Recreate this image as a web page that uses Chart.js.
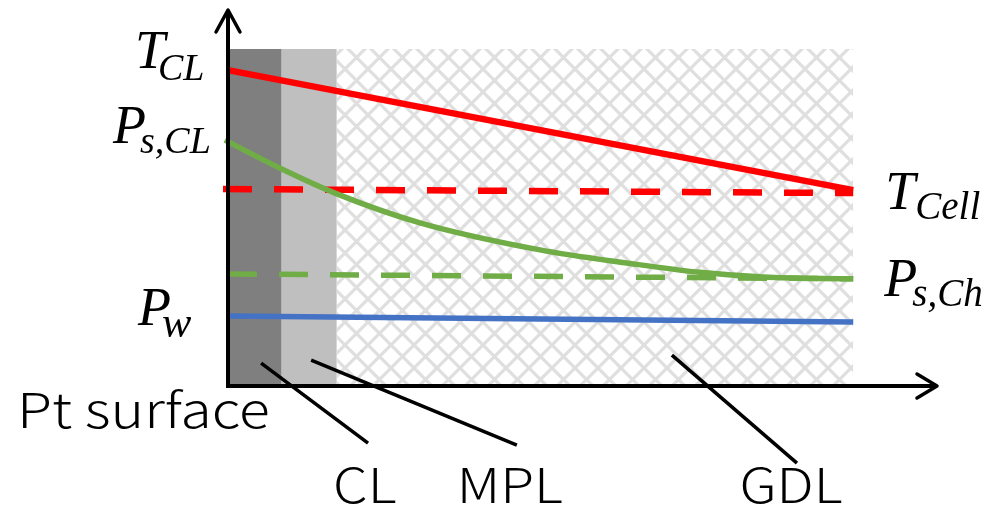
<!DOCTYPE html>
<html>
<head>
<meta charset="utf-8">
<script src="https://cdn.jsdelivr.net/npm/chart.js@4.4.1/dist/chart.umd.min.js"></script>
<style>
  html, body { margin: 0; padding: 0; background: #fff; overflow: hidden; }
  canvas { display: block; }
</style>
</head>
<body>
<canvas id="c" width="990" height="509"></canvas>
<script>
// Through-plane distance from the Pt surface (GDL outlet = 100), arbitrary level units
const layerNames = ['CL', 'MPL', 'GDL'];
const layerEdges = [0, 8.6, 17.4, 100];
const layerTop = 89.6;
const axisMaxX = 113.4;
const axisMaxY = 100;

// Temperature profile and cell temperature
const tempX = [0, 100];
const tempY = [84.0, 52.1];
const tempCellX = [-0.8, 100];
const tempCellY = [52.4, 51.3];

// Saturation pressure profile and channel saturation pressure
const psatX = [-0.5, 8.6, 17.4, 30.7, 49.9, 64.3, 75.0, 85.6, 100];
const psatY = [65.4, 57.7, 51.1, 43.4, 36.2, 32.6, 30.3, 29.0, 28.5];
const psatChX = [0, 100];
const psatChY = [29.8, 28.5];

// Water vapour partial pressure
const pwX = [0, 100];
const pwY = [18.6, 17.0];

// Leader lines from each layer to its name
const leaderFrom = [[5.3, 6.1], [13.3, 6.9], [71.0, 8.2]];
const leaderTo = [[22.4, -15.2], [46.2, -15.7], [91.0, -20.5]];

const pts = (xs, ys) => xs.map((x, i) => ({ x, y: ys[i] }));

// Cross-hatch fill for the GDL
function hatchPattern() {
  const p = 23;
  const c = document.createElement('canvas');
  c.width = p; c.height = p;
  const g = c.getContext('2d');
  g.fillStyle = '#ffffff';
  g.fillRect(0, 0, p, p);
  g.filter = 'blur(0.7px)';
  g.strokeStyle = '#dfdfdf';
  g.lineWidth = 3.2;
  for (const dx of [-p, 0, p]) {
    g.beginPath();
    g.moveTo(dx - 2, -2); g.lineTo(dx + p + 2, p + 2);
    g.moveTo(dx + p + 2, -2); g.lineTo(dx - 2, p + 2);
    g.stroke();
  }
  return g.createPattern(c, 'repeat');
}

const ctx = document.getElementById('c').getContext('2d');
const layerColors = ['#7f7f7f', '#bfbfbf', hatchPattern()];

const bandSets = layerNames.map((n, i) => ({
  label: n,
  data: [{ x: layerEdges[i], y: layerTop }, { x: layerEdges[i + 1], y: layerTop }],
  borderWidth: 0,
  borderColor: 'rgba(0,0,0,0)',
  backgroundColor: layerColors[i],
  fill: 'origin',
  pointRadius: 0,
  order: 20
}));

const lineSet = (label, data, color, width, dash, order, cubic) => ({
  label, data,
  borderColor: color,
  borderWidth: width,
  borderDash: dash,
  borderCapStyle: 'butt',
  fill: false,
  pointRadius: 0,
  cubicInterpolationMode: cubic ? 'monotone' : 'default',
  order
});

const axesPlugin = {
  id: 'axesAndLeaders',
  afterDatasetsDraw(chart) {
    const { ctx, scales: { x, y } } = chart;
    const x0 = x.getPixelForValue(0), y0 = y.getPixelForValue(0);
    const xe = x.getPixelForValue(axisMaxX), ye = y.getPixelForValue(axisMaxY);
    ctx.save();
    ctx.strokeStyle = '#000';
    ctx.lineCap = 'butt';
    ctx.lineJoin = 'round';
    // leader lines
    ctx.lineWidth = 3.5;
    leaderFrom.forEach((f, i) => {
      ctx.beginPath();
      ctx.moveTo(x.getPixelForValue(f[0]), y.getPixelForValue(f[1]));
      ctx.lineTo(x.getPixelForValue(leaderTo[i][0]), y.getPixelForValue(leaderTo[i][1]));
      ctx.stroke();
    });
    // axes with open arrowheads
    ctx.lineWidth = 4;
    ctx.beginPath();
    ctx.moveTo(x0, y0 + 2); ctx.lineTo(x0, ye + 1);
    ctx.moveTo(x0 - 2, y0); ctx.lineTo(xe - 1, y0);
    ctx.stroke();
    ctx.lineWidth = 3.5;
    ctx.lineCap = 'round';
    ctx.beginPath();
    ctx.moveTo(x0 - 12, ye + 22); ctx.lineTo(x0, ye); ctx.lineTo(x0 + 12, ye + 22);
    ctx.moveTo(xe - 20, y0 - 12); ctx.lineTo(xe, y0); ctx.lineTo(xe - 20, y0 + 12);
    ctx.stroke();
    ctx.restore();
  },
  afterDraw(chart) {
    const { ctx, scales: { x, y } } = chart;
    const X = v => x.getPixelForValue(v), Y = v => y.getPixelForValue(v);
    ctx.save();
    ctx.fillStyle = '#000';
    ctx.textBaseline = 'alphabetic';
    ctx.textAlign = 'left';
    const mainFont = 'italic 54px "Liberation Serif"';
    const math = (main, sub, px, py, sdx, sdy, subSize) => {
      ctx.font = mainFont; ctx.fillText(main, px, py);
      ctx.font = 'italic ' + subSize + 'px "Liberation Serif"';
      ctx.fillText(sub, px + sdx, py + sdy);
    };
    const yL = X(0);
    math('T', 'CL', yL - 93, Y(84.6), 23, 12, 38);
    math('P', 's,CL', yL - 115, Y(64.6), 27, 10, 38);
    math('P', 'w', yL - 90, Y(16.2), 24, 12, 44);
    math('T', 'Cell', X(100) + 32, Y(47.1), 30, 10, 39);
    math('P', 's,Ch', X(100) + 31, Y(24.0), 28, 10, 39);

    // layer names, slightly widened sans text
    const sans = (txt, px, py, sx) => {
      ctx.save();
      ctx.translate(px, py);
      ctx.scale(sx, 1);
      ctx.font = '300 48px "Noto Sans CJK JP"';
      ctx.fillText(txt, 0, 0);
      ctx.restore();
    };
    sans('Pt surface', yL - 211, Y(-11.2), 1.19);
    sans(layerNames[0], X(16.8), Y(-31.1), 1.15);
    sans(layerNames[1], X(36.6), Y(-31.1), 1.15);
    sans(layerNames[2], X(81.8), Y(-31.1), 1.15);
    ctx.restore();
  }
};

new Chart(ctx, {
  type: 'line',
  data: {
    datasets: [
      lineSet('T', pts(tempX, tempY), '#ff0000', 6.5, [], 2, false),
      lineSet('T_Cell', pts(tempCellX, tempCellY), '#ff0000', 6.5, [29, 22], 4, false),
      lineSet('P_s', pts(psatX, psatY), '#70ad47', 5.5, [], 1, true),
      lineSet('P_s,Ch', pts(psatChX, psatChY), '#70ad47', 5.5, [29, 22], 3, false),
      lineSet('P_w', pts(pwX, pwY), '#4472c4', 5.5, [], 1, false),
      ...bandSets
    ]
  },
  options: {
    responsive: false,
    animation: false,
    events: [],
    layout: { padding: { left: 228, right: 53, top: 10, bottom: 123 } },
    plugins: { legend: { display: false }, tooltip: { enabled: false } },
    scales: {
      x: { type: 'linear', min: 0, max: axisMaxX, display: false },
      y: { type: 'linear', min: 0, max: axisMaxY, display: false }
    },
    clip: false
  },
  plugins: [axesPlugin]
});
</script>
</body>
</html>
